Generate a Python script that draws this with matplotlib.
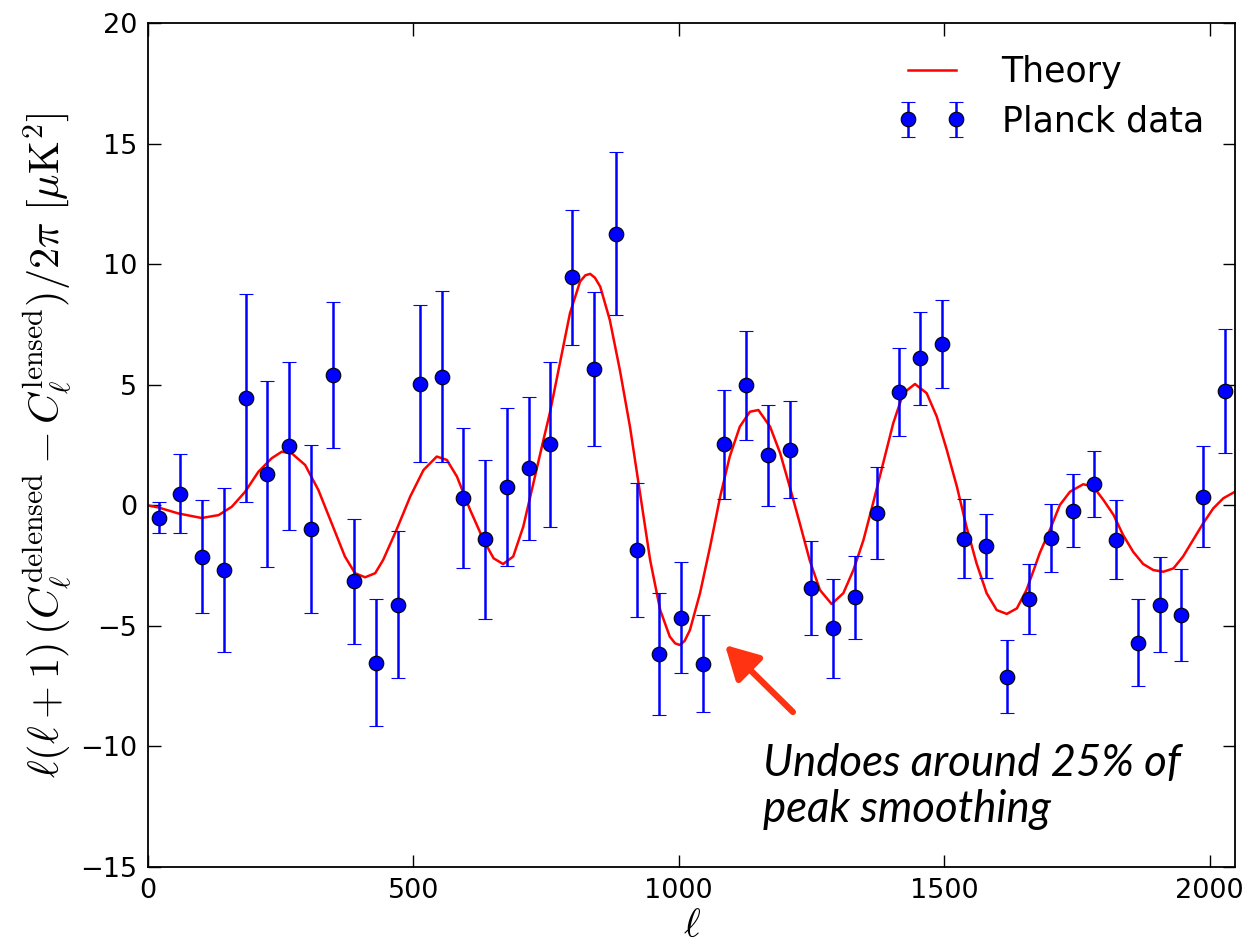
import matplotlib
matplotlib.use("Agg")
import matplotlib.pyplot as plt

# ---- data ----
ell_data = [20, 61, 102, 143, 184, 225, 266, 307, 348, 389, 430, 471, 512, 553, 594,
            635, 676, 717, 758, 799, 840, 881, 922, 963, 1004, 1045, 1086, 1127, 1168,
            1209, 1250, 1291, 1332, 1373, 1414, 1455, 1496, 1537, 1578, 1619, 1660,
            1701, 1742, 1783, 1824, 1865, 1906, 1947, 1988, 2029]
val_data = [-0.5, 0.49, -2.12, -2.68, 4.46, 1.31, 2.47, -0.98, 5.40, -3.15, -6.52, -4.11,
            5.05, 5.35, 0.32, -1.40, 0.78, 1.54, 2.54, 9.47, 5.66, 11.27, -1.85, -6.17,
            -4.66, -6.56, 2.53, 4.98, 2.08, 2.32, -3.42, -5.10, -3.81, -0.32, 4.71, 6.11,
            6.69, -1.38, -1.69, -7.10, -3.89, -1.35, -0.22, 0.88, -1.42, -5.69, -4.11,
            -4.54, 0.37, 4.75]
err_data = [0.65, 1.63, 2.35, 3.40, 4.30, 3.87, 3.47, 3.50, 3.03, 2.60, 2.64, 3.03, 3.25,
            3.55, 2.91, 3.30, 3.28, 2.96, 3.42, 2.80, 3.20, 3.38, 2.77, 2.52, 2.30, 2.00,
            2.26, 2.25, 2.10, 2.00, 1.95, 2.05, 1.72, 1.92, 1.84, 1.93, 1.83, 1.65, 1.34,
            1.50, 1.45, 1.42, 1.51, 1.37, 1.63, 1.82, 1.96, 1.90, 2.11, 2.57]

ell_theory = [0, 19, 57, 101, 133, 158, 183, 208, 233, 252, 271, 296, 321, 346, 371, 390,
              409, 428, 443, 468, 494, 519, 544, 563, 582, 607, 632, 651, 669, 688, 707,
              726, 745, 757, 776, 795, 814, 824, 833, 842, 852, 870, 889, 908, 927, 946,
              965, 983, 993, 1002, 1011, 1021, 1040, 1059, 1078, 1096, 1115, 1134, 1150,
              1172, 1191, 1209, 1228, 1247, 1266, 1288, 1310, 1329, 1348, 1366, 1385,
              1404, 1423, 1445, 1467, 1486, 1505, 1524, 1542, 1561, 1580, 1599, 1618,
              1637, 1655, 1671, 1680, 1699, 1718, 1737, 1762, 1781, 1800, 1819, 1837,
              1856, 1875, 1894, 1913, 1932, 1950, 1969, 1988, 2007, 2026, 2048]
val_theory = [0.0, -0.08, -0.33, -0.52, -0.40, -0.05, 0.57, 1.40, 1.96, 2.23, 2.16, 1.68,
              0.64, -0.74, -2.12, -2.81, -2.98, -2.81, -2.26, -1.02, 0.37, 1.47, 2.03,
              1.89, 1.20, -0.19, -1.43, -2.19, -2.43, -2.12, -0.88, 0.92, 2.72, 3.83,
              5.90, 7.98, 9.29, 9.55, 9.61, 9.45, 9.08, 7.70, 5.62, 3.27, 0.51, -2.26,
              -4.34, -5.44, -5.72, -5.79, -5.62, -5.17, -3.64, -1.71, 0.37, 2.03, 3.27,
              3.89, 3.96, 3.27, 2.17, 0.78, -0.74, -2.30, -3.51, -4.09, -3.64, -2.68,
              -1.43, 0.09, 1.75, 3.41, 4.66, 5.04, 4.66, 3.69, 2.30, 0.78, -0.88, -2.40,
              -3.64, -4.34, -4.50, -4.27, -3.51, -2.54, -1.98, -1.02, 0.02, 0.57, 0.88,
              0.78, 0.23, -0.39, -1.22, -1.92, -2.43, -2.68, -2.75, -2.61, -2.12, -1.43,
              -0.74, -0.12, 0.30, 0.57]

xticks = [0, 500, 1000, 1500, 2000]
yticks = [-15, -10, -5, 0, 5, 10, 15, 20]

# ---- figure ----
plt.rcParams['mathtext.fontset'] = 'cm'
plt.rcParams['font.family'] = 'DejaVu Sans'

fig = plt.figure(figsize=(12.47, 9.5), dpi=100)
ax = fig.add_axes([0.1187, 0.0874, 0.9904 - 0.1187, 0.9753 - 0.0874])

ax.plot(ell_theory, val_theory, color='#ff0000', lw=1.8, label='Theory', zorder=2,
        solid_joinstyle='round')
ax.errorbar(ell_data, val_data, yerr=err_data, fmt='o', color='#0000ff',
            ecolor='#0000ff', elinewidth=1.8, capsize=5, capthick=1.5,
            markersize=10.5, markeredgecolor='black', markeredgewidth=0.8,
            label='Planck data', zorder=3)

ax.set_xlim(0, 2048)
ax.set_ylim(-15, 20)
ax.set_xticks(xticks)
ax.set_yticks(yticks)
ax.set_yticklabels(['\u2212' + str(-t) if t < 0 else str(t) for t in yticks])
ax.tick_params(direction='in', top=True, right=True, length=9, width=1,
               labelsize=19.5, pad=8)
for s in ax.spines.values():
    s.set_linewidth(1.3)

ax.set_xlabel(r'$\ell$', fontsize=29, labelpad=1)
ax.set_ylabel(r'$\ell(\ell+1)\,(C_\ell^{\rm delensed}-C_\ell^{\rm lensed})/2\pi\ [\mu{\rm K}^2]$',
              fontsize=30.5, labelpad=4)

leg = ax.legend(loc='upper right', frameon=False, numpoints=2, fontsize=25,
                handlelength=2.0, borderaxespad=0.5, handletextpad=1.0,
                labelspacing=0.45)

ax.annotate('', xy=(1087, -5.79), xytext=(1215, -8.57),
            arrowprops=dict(arrowstyle='-|>,head_length=1.0,head_width=0.55',
                            mutation_scale=20, color='#ff3311', lw=4.5,
                            shrinkA=0, shrinkB=0))
ax.text(1158, -13.15, 'Undoes around 25% of\npeak smoothing', fontsize=31.5,
        style='italic', family='Lato', ha='left', va='baseline', linespacing=1.15)

fig.savefig('out.png', dpi=100)
